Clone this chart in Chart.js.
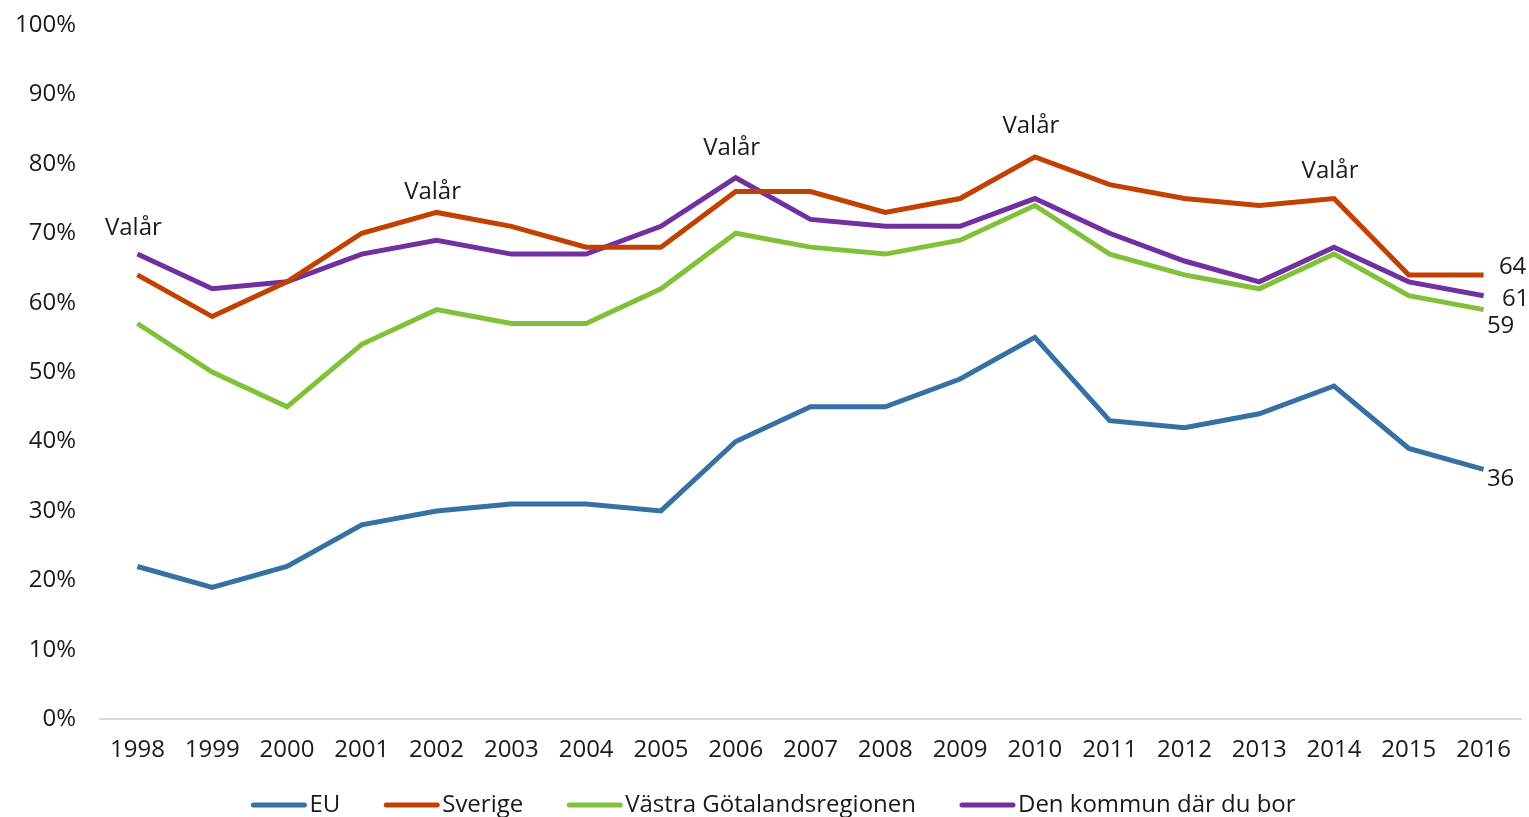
<!DOCTYPE html>
<html>
<head>
<meta charset="utf-8">
<script src="https://cdn.jsdelivr.net/npm/chart.js@4"></script>
<style>
  html, body { margin: 0; padding: 0; background: #fff; }
  #wrap { width: 1529px; height: 817px; }
</style>
</head>
<body>
<div id="wrap"><canvas id="lineChart"></canvas></div>
<script>
// Data (percent)
const years = ['1998','1999','2000','2001','2002','2003','2004','2005','2006','2007','2008','2009','2010','2011','2012','2013','2014','2015','2016'];
const eu      = [22, 19, 22, 28, 30, 31, 31, 30, 40, 45, 45, 49, 55, 43, 42, 44, 48, 39, 36];
const sverige = [64, 58, 63, 70, 73, 71, 68, 68, 76, 76, 73, 75, 81, 77, 75, 74, 75, 64, 64];
const vgr     = [57, 50, 45, 54, 59, 57, 57, 62, 70, 68, 67, 69, 74, 67, 64, 62, 67, 61, 59];
const kommun  = [67, 62, 63, 67, 69, 67, 67, 71, 78, 72, 71, 71, 75, 70, 66, 63, 68, 63, 61];
const valar   = ['1998', '2002', '2006', '2010', '2014'];
const yTicks  = [0, 10, 20, 30, 40, 50, 60, 70, 80, 90, 100];

const FONT = "'Open Sans', 'Noto Sans', sans-serif";
const TEXT = '#1a1a1a';
const SIZE = 24;

// Valår over election years, last value at the end of each line, and the legend
const annotations = {
    id: 'annotations',
    afterDatasetsDraw(chart) {
        const { ctx, scales: { x, y } } = chart;
        ctx.save();
        ctx.font = `${SIZE}px ${FONT}`;
        ctx.fillStyle = TEXT;
        ctx.textAlign = 'center';
        ctx.textBaseline = 'middle';

        // how far above the highest line each Valår sits
        const lift = [26, 20, 30, 31, 27];
        valar.forEach((yr, k) => {
            const i = years.indexOf(yr);
            const top = Math.max(eu[i], sverige[i], vgr[i], kommun[i]);
            ctx.fillText('Valår', x.getPixelForValue(i) - 4, y.getPixelForValue(top) - lift[k]);
        });

        // small nudges so the end labels don't overlap
        const nudges = [[17, 10], [29, -8], [17, 17], [32, 3]];
        chart.data.datasets.forEach((ds, k) => {
            const last = ds.data.length - 1;
            const px = x.getPixelForValue(last) + nudges[k][0];
            const py = y.getPixelForValue(ds.data[last]) + nudges[k][1];
            ctx.fillText(String(ds.data[last]), px, py);
        });

        // legend: line swatch + label, centred under the plot
        const sw = 55, gap = 3, itemGap = 44, ly = chart.height - 12;
        ctx.textAlign = 'left';
        const widths = chart.data.datasets.map(ds => sw + gap + ctx.measureText(ds.label).width);
        const total = widths.reduce((a, b) => a + b, 0) + itemGap * (widths.length - 1);
        let lx = chart.width / 2 + 9 - total / 2;
        chart.data.datasets.forEach((ds, k) => {
            ctx.strokeStyle = ds.borderColor;
            ctx.lineWidth = 5;
            ctx.lineCap = 'round';
            ctx.beginPath();
            ctx.moveTo(lx + 2, ly);
            ctx.lineTo(lx + sw - 2, ly);
            ctx.stroke();
            ctx.fillText(ds.label, lx + sw + gap, ly);
            lx += widths[k] + itemGap;
        });
        ctx.restore();
    }
};

function line(label, data, color) {
    return {
        label: label,
        data: data,
        borderColor: color,
        backgroundColor: color,
        borderWidth: 5,
        pointRadius: 0,
        tension: 0,
        fill: false
    };
}

new Chart(document.getElementById('lineChart'), {
    type: 'line',
    data: {
        labels: years,
        datasets: [
            line('EU', eu, '#3571a3'),
            line('Sverige', sverige, '#c24000'),
            line('Västra Götalandsregionen', vgr, '#80c139'),
            line('Den kommun där du bor', kommun, '#7030a0')
        ]
    },
    options: {
        responsive: true,
        maintainAspectRatio: false,
        animation: false,
        layout: { padding: { left: 5, right: 8, top: 25, bottom: 43 } },
        plugins: {
            legend: { display: false },
            tooltip: { enabled: false }
        },
        scales: {
            x: {
                offset: true,
                grid: { display: false },
                border: { display: true, color: '#d9d9d9', width: 2 },
                ticks: { color: TEXT, padding: 9, maxRotation: 0, font: { family: FONT, size: SIZE } }
            },
            y: {
                min: 0,
                max: 100,
                // invisible tick marks keep the labels clear of the plot
                grid: { display: true, drawOnChartArea: false, drawTicks: true, tickLength: 14, color: 'transparent' },
                border: { display: false },
                afterBuildTicks: axis => { axis.ticks = yTicks.map(v => ({ value: v })); },
                ticks: {
                    color: TEXT,
                    padding: 10,
                    font: { family: FONT, size: SIZE },
                    callback: v => v + '%'
                }
            }
        }
    },
    plugins: [annotations]
});
</script>
</body>
</html>
